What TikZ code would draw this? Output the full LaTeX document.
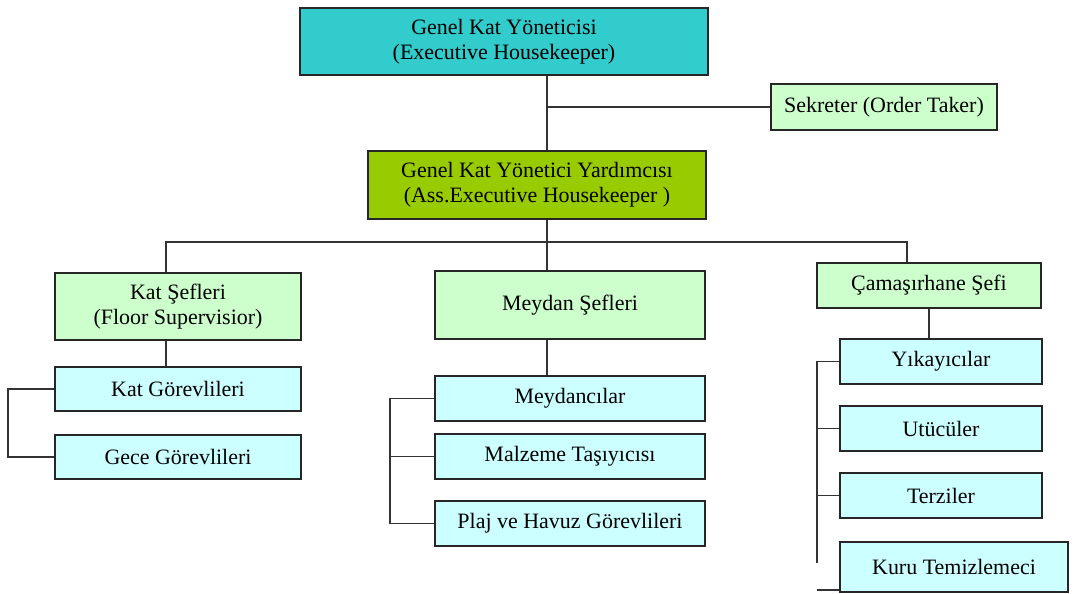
\documentclass[tikz,border=0pt]{standalone}
\usepackage{fontspec}
\setmainfont{LiberationSerif}[Extension=.ttf, UprightFont=*-Regular]
\usetikzlibrary{calc}
\definecolor{headcyan}{HTML}{33CCCC}
\definecolor{asstgreen}{HTML}{99CC00}
\definecolor{chiefgreen}{HTML}{CCFFCC}
\definecolor{staffcyan}{HTML}{CCFFFF}
\tikzset{
	box/.style={draw=black!85, line width=0.8pt, inner sep=0pt, align=center,
		font=\rmfamily\fontsize{12.5}{14.2}\selectfont},
	headbox/.style={box, fill=headcyan},
	asstbox/.style={box, fill=asstgreen},
	chiefbox/.style={box, fill=chiefgreen},
	staffbox/.style={box, fill=staffcyan},
	link/.style={draw=black!80, line width=0.8pt}
}

\begin{document}
\begin{tikzpicture}[x=0.02cm, y=-0.02cm]
		%%%%% START %%%%%
		\useasboundingbox (0, 0) rectangle (1080, 594);
		
		\node[headbox, minimum width=8.16cm, minimum height=1.34cm] (head) at (504, 41.5) {Genel Kat Yöneticisi\\(Executive Housekeeper)};
		\node[chiefbox, minimum width=4.52cm, minimum height=0.92cm] (sekreter) at (884, 107) {Sekreter (Order Taker)};
		\node[asstbox, minimum width=6.76cm, minimum height=1.36cm] (asst) at (537, 185) {Genel Kat Yönetici Yardımcısı\\(Ass.Executive Housekeeper )};
		
		\node[chiefbox, minimum width=4.92cm, minimum height=1.34cm] (katsef) at (178, 306.5) {Kat Şefleri\\(Floor Supervisior)};
		\node[chiefbox, minimum width=5.4cm, minimum height=1.36cm] (meysef) at (570, 305) {Meydan Şefleri};
		\node[chiefbox, minimum width=4.48cm, minimum height=0.9cm] (camsef) at (929, 285.5) {Çamaşırhane Şefi};
		
		\node[staffbox, minimum width=4.92cm, minimum height=0.88cm] (katgor) at (178, 389) {Kat Görevlileri};
		\node[staffbox, minimum width=4.92cm, minimum height=0.88cm] (gece) at (178, 457) {Gece Görevlileri};
		
		\node[staffbox, minimum width=5.4cm, minimum height=0.9cm] (meyd) at (570, 398.5) {Meydancılar};
		\node[staffbox, minimum width=5.4cm, minimum height=0.9cm] (malz) at (570, 456.5) {Malzeme Taşıyıcısı};
		\node[staffbox, minimum width=5.4cm, minimum height=0.9cm] (plaj) at (570, 523.5) {Plaj ve Havuz Görevlileri};
		
		\node[staffbox, minimum width=4.04cm, minimum height=0.9cm] (yika) at (941, 361.5) {Yıkayıcılar};
		\node[staffbox, minimum width=4.04cm, minimum height=0.9cm] (utu) at (941, 428.5) {Utücüler};
		\node[staffbox, minimum width=4.04cm, minimum height=0.9cm] (terzi) at (941, 495.5) {Terziler};
		\node[staffbox, minimum width=4.56cm, minimum height=1.0cm] (kuru) at (954, 567) {Kuru Temizlemeci};
		
		% trunk and bus
		\coordinate (trunk) at (547, 107);
		\coordinate (bus) at (547, 242);
		\coordinate (leftdrop) at (166, 242);
		\coordinate (rightdrop) at (907, 242);
		\draw[link] (head.south -| trunk) -- (asst.north -| trunk);
		\draw[link] (trunk) -- (sekreter.west);
		\draw[link] (asst.south -| bus) -- (meysef.north -| bus);
		\draw[link] (katsef.north -| leftdrop) -- (leftdrop) -- (rightdrop) -- (camsef.north -| rightdrop);
		
		% chiefs to staff
		\draw[link] (katsef.south -| leftdrop) -- (katgor.north -| leftdrop);
		\draw[link] (meysef.south -| bus) -- (meyd.north -| bus);
		\draw[link] (camsef.south) -- (yika.north -| camsef.south);
		
		% brackets
		\coordinate (lbar) at (8, 0);
		\coordinate (mbar) at (390, 0);
		\coordinate (rbar) at (817, 0);
		\draw[link] (katgor.west) -- (katgor.west -| lbar) -- (gece.west -| lbar) -- (gece.west);
		\draw[link] (meyd.west) -- (meyd.west -| mbar) -- (plaj.west -| mbar) -- (plaj.west);
		\draw[link] (malz.west -| mbar) -- (malz.west);
		\draw[link] (yika.west) -- (yika.west -| rbar) -- (rbar |- 0, 563);
		\draw[link] (utu.west -| rbar) -- (utu.west);
		\draw[link] (terzi.west -| rbar) -- (terzi.west);
		\draw[link] (rbar |- 0, 590) -- (kuru.west |- 0, 590);
		
		%%%%% END %%%%%
	\end{tikzpicture}
\end{document}
